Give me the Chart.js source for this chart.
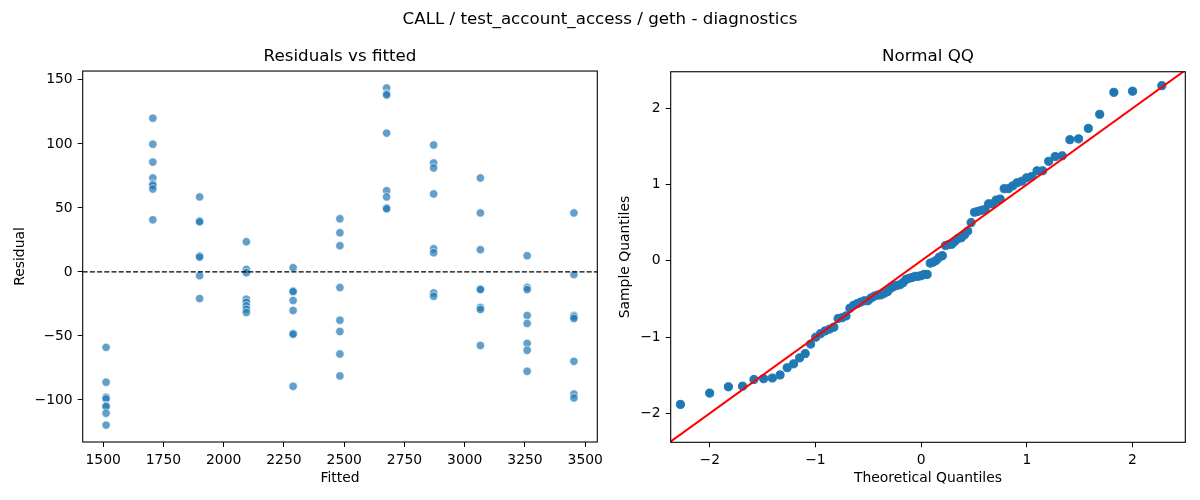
<!DOCTYPE html>
<html><head><meta charset="utf-8">
<script src="https://cdn.jsdelivr.net/npm/chart.js@4.4.1/dist/chart.umd.min.js"></script>
<style>
html,body{margin:0;padding:0;background:#fff;width:1200px;height:500px;overflow:hidden;font-family:"DejaVu Sans";}
#sup{position:absolute;left:0;top:8px;width:1200px;text-align:center;font-size:16.7px;line-height:20px;color:#000;font-family:"DejaVu Sans";}
#w1{position:absolute;left:0;top:0;width:620px;height:500px;}
#w2{position:absolute;left:600px;top:0;width:600px;height:500px;}
</style></head><body>
<div id="w1"><canvas id="c1"></canvas></div>
<div id="w2"><canvas id="c2"></canvas></div>
<div id="sup">CALL / test_account_access / geth - diagnostics</div>
<script>
// ---- Residuals vs fitted ----
const fitted = [
  1512,1512,1512,1512,1512,1512,1512,1512,
  1706,1706,1706,1706,1706,1706,1706,1706,
  1900,1900,1900,1900,1900,1900,1900,
  2094,2094,2094,2094,2094,2094,2094,2094,
  2288,2288,2288,2288,2288,2288,2288,2288,
  2482,2482,2482,2482,2482,2482,2482,2482,
  2676,2676,2676,2676,2676,2676,2676,2676,
  2871,2871,2871,2871,2871,2871,2871,2871,
  3065,3065,3065,3065,3065,3065,3065,3065,
  3259,3259,3259,3259,3259,3259,3259,3259,
  3453,3453,3453,3453,3453,3453,3453,3453
];
const residuals = [
  -58.9,-86.1,-97.8,-99.1,-104.6,-105.1,-110.3,-119.6,
  120.1,99.8,85.8,73.4,68.7,67.6,64.8,40.7,
  58.6,39.9,39.1,12.4,11.6,-2.9,-20.8,
  23.6,2.0,-0.6,-21.3,-23.7,-26.5,-29.1,-31.7,
  3.3,-14.8,-15.4,-22.3,-30.1,-48.0,-48.6,-89.3,
  41.5,30.6,20.5,-12.2,-37.7,-46.5,-64.1,-81.2,
  143.7,139.2,138.2,108.4,63.5,58.6,50.0,49.3,
  99.1,85.1,81.2,60.9,18.1,15.0,-16.4,-19.0,
  73.4,46.1,17.4,-13.3,-13.8,-27.8,-29.3,-57.4,
  12.7,-12.2,-13.8,-34.0,-40.2,-55.8,-61.2,-77.6,
  46.1,-2.1,-34.0,-35.1,-36.4,-69.8,-95.3,-98.4
];
const residXTicks = [1500,1750,2000,2250,2500,2750,3000,3250,3500];
const residYTicks = [-100,-50,0,50,100,150];
const residXRange = [1415, 3550];
const residYRange = [-132.8, 156.9];
const zeroLevel = 0;

// ---- Normal QQ ----
const qqTheoretical = [
  -2.278,-2.001,-1.824,-1.690,-1.582,-1.490,-1.408,-1.335,-1.268,-1.207,
  -1.150,-1.097,-1.046,-0.998,-0.952,-0.908,-0.866,-0.826,-0.786,-0.748,
  -0.711,-0.674,-0.639,-0.605,-0.571,-0.538,-0.505,-0.473,-0.441,-0.410,
  -0.380,-0.349,-0.319,-0.289,-0.260,-0.230,-0.201,-0.172,-0.143,-0.114,
  -0.086,-0.057,-0.028,0.000,0.028,0.057,0.086,0.114,0.143,0.172,
  0.201,0.230,0.260,0.289,0.319,0.349,0.380,0.410,0.441,0.473,
  0.505,0.538,0.571,0.605,0.639,0.674,0.711,0.748,0.786,0.826,
  0.866,0.908,0.952,0.998,1.046,1.097,1.150,1.207,1.268,1.335,
  1.408,1.490,1.582,1.690,1.824,2.001,2.278
];
const qqSample = [
  -1.883,-1.735,-1.652,-1.644,-1.557,-1.546,-1.537,-1.497,-1.402,-1.351,
  -1.273,-1.216,-1.092,-1.002,-0.956,-0.919,-0.895,-0.870,-0.756,-0.746,
  -0.722,-0.622,-0.583,-0.562,-0.541,-0.524,-0.524,-0.487,-0.462,-0.449,
  -0.446,-0.425,-0.405,-0.360,-0.338,-0.322,-0.314,-0.286,-0.244,-0.229,
  -0.219,-0.203,-0.203,-0.195,-0.178,-0.178,-0.030,-0.017,0.006,0.048,
  0.068,0.200,0.213,0.217,0.254,0.292,0.303,0.341,0.390,0.502,
  0.637,0.649,0.662,0.675,0.748,0.748,0.798,0.810,0.946,0.946,
  0.983,1.024,1.044,1.089,1.106,1.181,1.181,1.305,1.367,1.378,
  1.589,1.600,1.737,1.922,2.210,2.225,2.297
];
const qqXTicks = [-2,-1,0,1,2];
const qqYTicks = [-2,-1,0,1,2];
const qqXRange = [-2.37, 2.50];
const qqYRange = [-2.38, 2.48];
const refLineEnds = [-3, 3];

const FONT = 'DejaVu Sans';
const fmt = v => (v < 0 ? '\u2212' + Math.abs(v) : String(v));

function axis(range, ticks, title, fitSize, isX, titlePad) {
  return {
    type: 'linear', min: range[0], max: range[1],
    afterBuildTicks: s => { s.ticks = ticks.map(v => ({ value: v })); },
    afterFit: s => { if (isX) s.height = fitSize; else s.width = fitSize; },
    ticks: { color: '#000', font: { family: FONT, size: 13.9 }, padding: 5, callback: fmt,
             autoSkip: false, maxRotation: 0, minRotation: 0, includeBounds: false },
    grid: { display: true, drawOnChartArea: false, drawTicks: true, tickLength: 5, color: '#000', lineWidth: 1 },
    border: { display: false },
    title: { display: true, text: title, color: '#000', font: { family: FONT, size: 13.9, lineHeight: 1.2 },
             padding: isX ? { top: 0, bottom: titlePad } : { top: titlePad, bottom: 0 } }
  };
}

const framePlugin = {
  id: 'frame',
  afterDraw(chart) {
    const a = chart.chartArea, ctx = chart.ctx;
    ctx.save();
    ctx.strokeStyle = '#000'; ctx.lineWidth = 1.1;
    ctx.strokeRect(a.left, a.top, a.right - a.left, a.bottom - a.top);
    ctx.restore();
  }
};
const zeroLinePlugin = {
  id: 'zeroLine',
  afterDatasetsDraw(chart) {
    const a = chart.chartArea, ctx = chart.ctx;
    const y = chart.scales.y.getPixelForValue(zeroLevel);
    ctx.save();
    ctx.strokeStyle = '#000'; ctx.lineWidth = 1.3; ctx.setLineDash([5, 2.2]);
    ctx.beginPath(); ctx.moveTo(a.left, y); ctx.lineTo(a.right, y); ctx.stroke();
    ctx.restore();
  }
};

function titleOpt(text, top, bottom) {
  return { display: true, text, fullSize: false, color: '#000',
           font: { family: FONT, size: 16.7, weight: 'normal', lineHeight: 1.2 },
           padding: { top, bottom } };
}

new Chart(document.getElementById('c1'), {
  type: 'scatter',
  data: { datasets: [{
    data: fitted.map((x, i) => ({ x, y: residuals[i] })),
    backgroundColor: 'rgba(31,119,180,0.7)', borderColor: 'rgba(255,255,255,0.8)',
    borderWidth: 0.8, pointRadius: 4.2, pointHoverRadius: 4.2
  }] },
  options: {
    responsive: true, maintainAspectRatio: false, animation: false,
    layout: { padding: { left: 0, right: 22.7, top: 0, bottom: 0 } },
    plugins: { legend: { display: false }, tooltip: { enabled: false },
               title: titleOpt('Residuals vs fitted', 46.5, 4.5) },
    scales: {
      x: axis(residXRange, residXTicks, 'Fitted', 58, true, 13.6),
      y: axis(residYRange, residYTicks, 'Residual', 82.7, false, 12.3)
    }
  },
  plugins: [zeroLinePlugin, framePlugin]
});

new Chart(document.getElementById('c2'), {
  type: 'scatter',
  data: { datasets: [
    { data: refLineEnds.map(v => ({ x: v, y: v })), showLine: true, borderColor: '#ff0000',
      borderWidth: 2, pointRadius: 0, pointHoverRadius: 0, fill: false, order: 0 },
    { data: qqTheoretical.map((x, i) => ({ x, y: qqSample[i] })),
      backgroundColor: '#1f77b4', borderColor: '#1f77b4', borderWidth: 1,
      pointRadius: 4.1, pointHoverRadius: 4.1, order: 1 }
  ] },
  options: {
    responsive: true, maintainAspectRatio: false, animation: false,
    layout: { padding: { left: 0, right: 14.7, top: 0, bottom: 0 } },
    plugins: { legend: { display: false }, tooltip: { enabled: false },
               title: titleOpt('Normal QQ', 46.5, 5.2) },
    scales: {
      x: axis(qqXRange, qqXTicks, 'Theoretical Quantiles', 57.7, true, 13.6),
      y: axis(qqYRange, qqYTicks, 'Sample Quantiles', 70.7, false, 16.6)
    }
  },
  plugins: [framePlugin]
});
</script>
</body></html>
